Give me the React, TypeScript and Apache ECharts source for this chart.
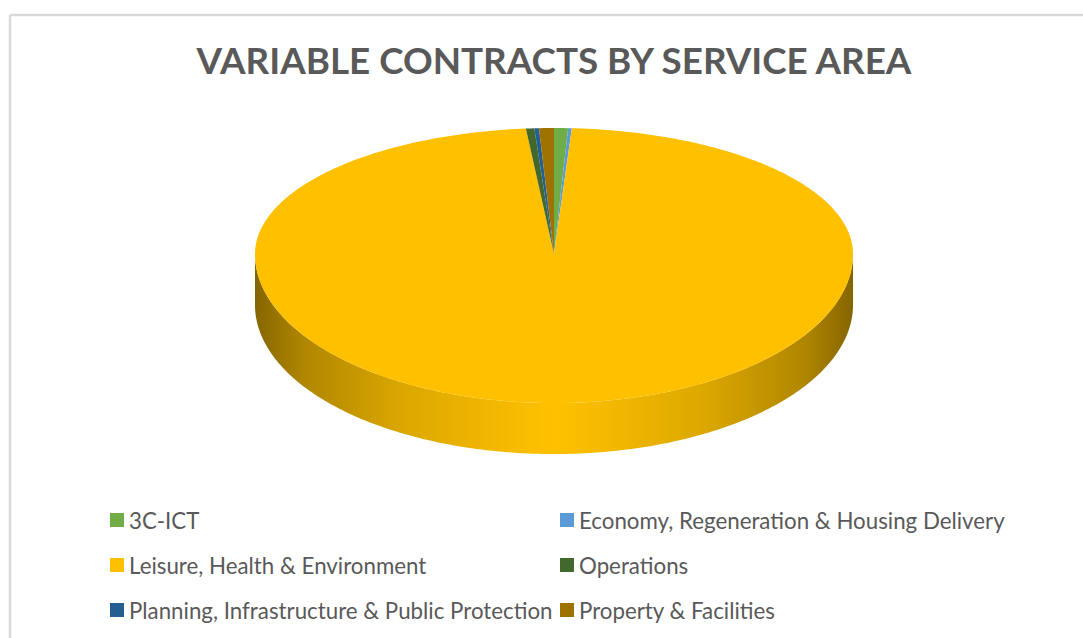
import React, { useEffect, useRef } from "react";
import * as echarts from "echarts";

const categories = [
  "3C-ICT",
  "Economy, Regeneration & Housing Delivery",
  "Leisure, Health & Environment",
  "Operations",
  "Planning, Infrastructure & Public Protection",
  "Property & Facilities",
];
const shares = [0.75, 0.2, 97.55, 0.45, 0.25, 0.8];
const colors = ["#70AD47", "#5B9BD5", "#FFC000", "#43682B", "#255E91", "#9E7200"];
const titleText = "VARIABLE CONTRACTS BY SERVICE AREA";

const CX = 554, CY = 254, RX = 299, RY_TOP = 126, RY_BOTTOM = 149, DEPTH = 51;
const total = shares.reduce((a, b) => a + b, 0);

function pt(t: number, off = 0): number[] {
  const c = Math.cos(t);
  return [CX + RX * Math.sin(t), CY - (c > 0 ? RY_TOP : RY_BOTTOM) * c + off];
}
function arc(a: number, b: number, off = 0): number[][] {
  const n = Math.max(2, Math.ceil(((b - a) / (2 * Math.PI)) * 360));
  const out: number[][] = [];
  for (let i = 0; i <= n; i++) out.push(pt(a + ((b - a) * i) / n, off));
  return out;
}

function renderSlice(color: string) {
  return (_p: any, api: any) => {
    const a = (api.value(0) / total) * 2 * Math.PI;
    const b = ((api.value(0) + api.value(1)) / total) * 2 * Math.PI;
    const children: any[] = [];
    const s = Math.max(a, Math.PI / 2);
    const e = Math.min(b, (3 * Math.PI) / 2);
    if (e > s) {
      const top = arc(s, e);
      const bottom = arc(s, e, DEPTH).reverse();
      children.push({
        type: "polygon",
        shape: { points: top.concat(bottom) },
        style: {
          fill: new echarts.graphic.LinearGradient(0, 0, 1, 0, [
            { offset: 0, color: "#856500" },
            { offset: 0.08, color: "#B08600" },
            { offset: 0.25, color: "#DCA800" },
            { offset: 0.4, color: "#F2B700" },
            { offset: 0.49, color: "#FFC000" },
            { offset: 0.51, color: "#FFC000" },
            { offset: 0.6, color: "#F2B700" },
            { offset: 0.75, color: "#DCA800" },
            { offset: 0.92, color: "#B08600" },
            { offset: 1, color: "#856500" },
          ]),
        },
      });
    }
    children.push({
      type: "polygon",
      shape: { points: [[CX, CY]].concat(arc(a, b)) },
      style: { fill: color },
    });
    return { type: "group", children };
  };
}

export default function App() {
  const ref = useRef<HTMLDivElement>(null);
  useEffect(() => {
    document.body.style.margin = "0";
    const chart = echarts.init(ref.current!, undefined, { renderer: "svg" });
    let cum = 0;
    const series = categories.map((name, i) => {
      const start = cum;
      cum += shares[i];
      return {
        type: "custom",
        name,
        coordinateSystem: "none",
        silent: true,
        itemStyle: { color: colors[i] },
        renderItem: renderSlice(colors[i]),
        data: [[start, shares[i]]],
      };
    });
    const legendBase = {
      orient: "vertical",
      top: 509,
      itemWidth: 14,
      itemHeight: 14,
      itemGap: 23,
      itemStyle: { borderWidth: 0 },
      icon: "rect",
      selectedMode: false,
      padding: 0,
      textStyle: { fontFamily: "Lato", fontSize: 22.3, color: "#595959" },
    };
    chart.setOption({
      animation: false,
      backgroundColor: "#FFFFFF",
      title: {
        text: titleText,
        left: 554,
        textAlign: "center",
        top: 41,
        padding: 0,
        textStyle: { fontFamily: "Lato", fontWeight: "bold", fontSize: 36.8, color: "#595959" },
      },
      legend: [
        { ...legendBase, left: 110, data: [categories[0], categories[2], categories[4]] },
        { ...legendBase, left: 560, data: [categories[1], categories[3], categories[5]] },
      ],
      graphic: [
        { type: "line", shape: { x1: 10, y1: 15, x2: 1083, y2: 15 }, style: { stroke: "#D9D9D9", lineWidth: 2.5 } },
        { type: "line", shape: { x1: 10, y1: 15, x2: 10, y2: 638 }, style: { stroke: "#D9D9D9", lineWidth: 2.5 } },
      ],
      series,
    });
    return () => chart.dispose();
  }, []);
  return <div ref={ref} style={{ position: "absolute", left: 0, top: 0, width: 1083, height: 638 }} />;
}
